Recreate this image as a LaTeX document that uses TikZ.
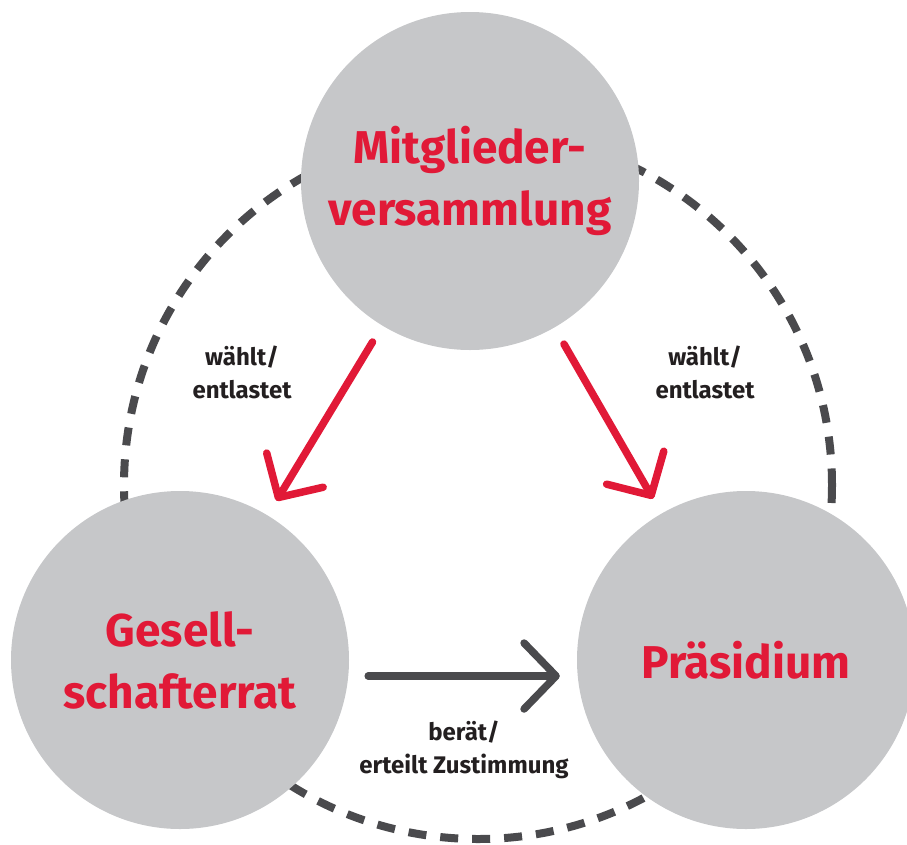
\documentclass[tikz,border=0pt]{standalone}
\usepackage{fontspec}
\setmainfont{Fira Sans}
\usepackage{xcolor}
\usepackage{tikz}
\usetikzlibrary{arrows.meta,positioning,calc}

\definecolor{organred}{RGB}{225,25,55}
\definecolor{organgrey}{RGB}{198,199,201}
\definecolor{organdark}{RGB}{74,74,77}
\definecolor{organtext}{RGB}{35,31,32}

\begin{document}
\begin{tikzpicture}[x=1pt,y=-1pt,
  organ/.style={circle,fill=organgrey,minimum size=338pt,inner sep=0pt,align=center,
    text=organred,font=\fontsize{46}{62}\selectfont\bfseries},
  duty/.style={align=center,text=organtext,font=\fontsize{24}{33}\selectfont\bfseries},
  elects/.style={draw=organred,line width=7.5pt,line cap=round,
    -{Straight Barb[length=32pt,width=66pt,round]}},
  advises/.style={draw=organdark,line width=7.5pt,line cap=round,
    -{Straight Barb[length=32pt,width=66pt,round]}}]
  \useasboundingbox (0,0) rectangle (907,844);
  % dashed ring behind the three organs
  \draw[organdark,line width=8pt,dash pattern=on 18pt off 14pt] (478,485) circle[radius=354];
  % organs
  \node[organ] (mv) at (470,181) {Mitglieder-\\versammlung};
  \node[organ] (gr) at (180,660) {Gesell-\\schafterrat};
  \node[organ] (pr) at (746,660) {Präsidium};
  % relations
  \draw[elects,shorten <=19pt,shorten >=17pt] (mv) -- (gr);
  \draw[elects,shorten <=19pt,shorten >=17pt] (mv) -- (pr);
  \draw[advises,shorten <=19pt,shorten >=17pt] ([yshift=-16pt]gr.east) -- ([yshift=-16pt]pr.west);
  % labels
  \node[duty] (gvote) at (242,372) {wählt/\\entlastet};
  \node[duty] (pvote) at (705,372) {wählt/\\entlastet};
  \node[duty] (advice) at (464,750) {berät/\\erteilt Zustimmung};
\end{tikzpicture}
\end{document}
